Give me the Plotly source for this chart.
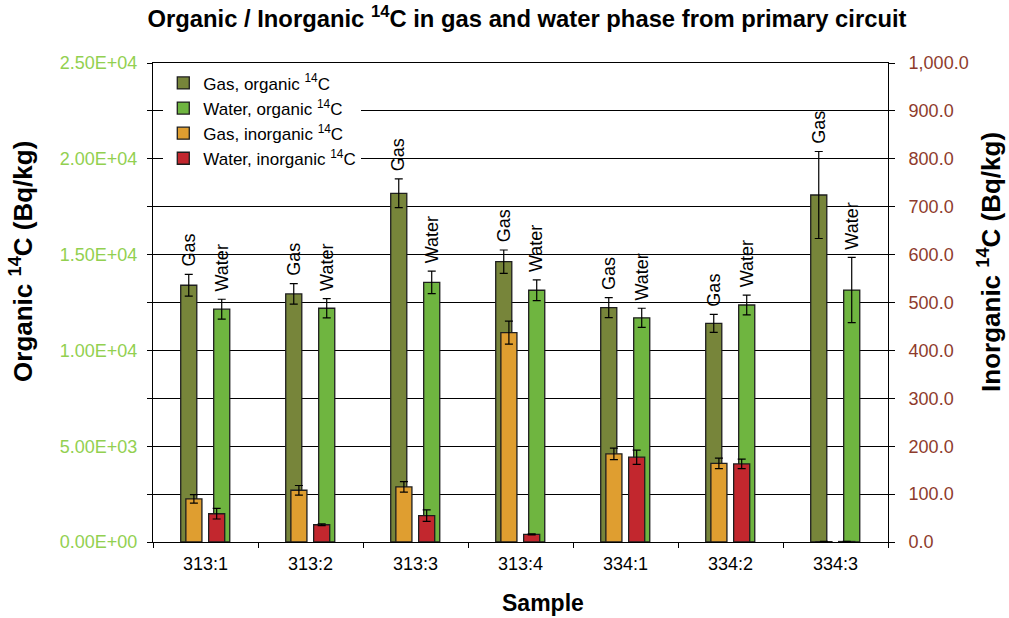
import plotly.graph_objects as go

samples = ["313:1", "313:2", "313:3", "313:4", "334:1", "334:2", "334:3"]

gas_organic = [13400, 12950, 18200, 14630, 12230, 11410, 18110]
gas_organic_err = [570, 540, 750, 610, 520, 470, 2270]
water_organic = [12150, 12200, 13550, 13140, 11700, 12370, 13150]
water_organic_err = [520, 500, 590, 540, 500, 520, 1700]

gas_inorganic = [90, 108, 115, 437, 184, 164, 0.8]
gas_inorganic_err = [9, 10, 11, 24, 12, 11, 0.5]
water_inorganic = [59, 36, 55, 16, 177, 163, 1.0]
water_inorganic_err = [11, 2, 12, 1, 15, 10, 0.5]

left_ticks = [0, 2500, 5000, 7500, 10000, 12500, 15000, 17500, 20000, 22500, 25000]
right_ticks = [0, 100, 200, 300, 400, 500, 600, 700, 800, 900, 1000]

FONT = "Liberation Sans, Arial, sans-serif"
OLIVE = "#77853A"
LIGHT_GREEN = "#6FB540"
ORANGE = "#DF9E30"
RED = "#C2272E"
LEFT_TICK_COLOR = "#92D050"
RIGHT_TICK_COLOR = "#8E3B2C"

# bar geometry in category units (one category = 1)
BAR_W = 0.153
OFF_GAS_ORG, OFF_WATER_ORG = -0.236, 0.078
OFF_GAS_INORG, OFF_WATER_INORG = -0.187, 0.030

fig = go.Figure()


def add_bar(name, values, errors, color, offset, yaxis):
    fig.add_trace(go.Bar(
        x=samples,
        y=values,
        name=name,
        yaxis=yaxis,
        width=BAR_W,
        offset=offset,
        marker=dict(color=color, line=dict(color="#1e1e1e", width=1.3)),
        error_y=dict(type="data", array=errors, color="black", thickness=1.2, width=4),
    ))


add_bar("Gas, organic <sup>14</sup>C", gas_organic, gas_organic_err, OLIVE, OFF_GAS_ORG, "y")
add_bar("Water, organic <sup>14</sup>C", water_organic, water_organic_err, LIGHT_GREEN, OFF_WATER_ORG, "y")
add_bar("Gas, inorganic <sup>14</sup>C", gas_inorganic, gas_inorganic_err, ORANGE, OFF_GAS_INORG, "y2")
add_bar("Water, inorganic <sup>14</sup>C", water_inorganic, water_inorganic_err, RED, OFF_WATER_INORG, "y2")

annotations = []
for i in range(len(samples)):
    for label, vals, errs, off in (("Gas", gas_organic, gas_organic_err, OFF_GAS_ORG),
                                   ("Water", water_organic, water_organic_err, OFF_WATER_ORG)):
        annotations.append(dict(
            x=i + off + BAR_W / 2, y=vals[i] + errs[i], xref="x", yref="y",
            text=label, textangle=-90, showarrow=False,
            xanchor="center", yanchor="bottom", yshift=6,
            font=dict(family=FONT, size=18, color="black"),
        ))

# axis titles
annotations += [
    dict(text="Organic <sup>14</sup>C (Bq/kg)", xref="paper", yref="paper",
         x=-0.178, y=0.585, textangle=-90, showarrow=False,
         xanchor="center", yanchor="middle",
         font=dict(family=FONT, size=26, color="black", weight="bold")),
    dict(text="Inorganic <sup>14</sup>C (Bq/kg)", xref="paper", yref="paper",
         x=1.139, y=0.585, textangle=-90, showarrow=False,
         xanchor="center", yanchor="middle",
         font=dict(family=FONT, size=26, color="black", weight="bold")),
    dict(text="Sample", xref="paper", yref="paper",
         x=0.531, y=-0.128, showarrow=False,
         xanchor="center", yanchor="middle",
         font=dict(family=FONT, size=23, color="black", weight="bold")),
]

fig.update_layout(
    width=1009,
    height=618,
    margin=dict(l=153, r=121, t=63, b=76),
    paper_bgcolor="white",
    plot_bgcolor="white",
    barmode="overlay",
    font=dict(family=FONT, color="black"),
    title=dict(
        text="<b>Organic / Inorganic <sup>14</sup>C in gas and water phase from primary circuit</b>",
        x=527 / 1009, xref="container", xanchor="center",
        y=1 - 19 / 618, yanchor="middle",
        font=dict(family=FONT, size=23.8, color="black"),
    ),
    legend=dict(
        x=0.014, y=0.995, xanchor="left", yanchor="top",
        bgcolor="white", borderwidth=0,
        font=dict(family=FONT, size=17, color="black"),
        traceorder="normal", itemwidth=30,
    ),
    annotations=annotations,
)

fig.update_xaxes(
    type="category",
    tickson="boundaries",
    ticks="outside", ticklen=5, tickcolor="black",
    showline=True, linecolor="black", linewidth=1, mirror=True,
    showgrid=False,
    tickfont=dict(family=FONT, size=18, color="black"),
    ticklabelstandoff=5,
)

fig.update_layout(
    yaxis=dict(
        range=[0, 25000],
        tickmode="array",
        tickvals=left_ticks,
        ticktext=[f"{v:.2E}" if v % 5000 == 0 else "" for v in left_ticks],
        ticks="outside", ticklen=5, tickcolor="black",
        showline=True, linecolor="black", linewidth=1,
        showgrid=True, gridcolor="black", gridwidth=1,
        zeroline=False,
        tickfont=dict(family=FONT, size=18, color=LEFT_TICK_COLOR),
        ticklabelstandoff=6,
    ),
    yaxis2=dict(
        range=[0, 1000],
        overlaying="y", side="right",
        tickmode="array",
        tickvals=right_ticks,
        ticktext=[f"{v:,.1f}" for v in right_ticks],
        ticks="outside", ticklen=6, tickcolor="black",
        showline=True, linecolor="black", linewidth=1,
        showgrid=False, zeroline=False,
        tickfont=dict(family=FONT, size=18, color=RIGHT_TICK_COLOR),
        ticklabelstandoff=10,
    ),
)

fig.write_html(
    "out.html",
    config={"displayModeBar": False},
    post_script="document.body.style.margin = '0';",
)
